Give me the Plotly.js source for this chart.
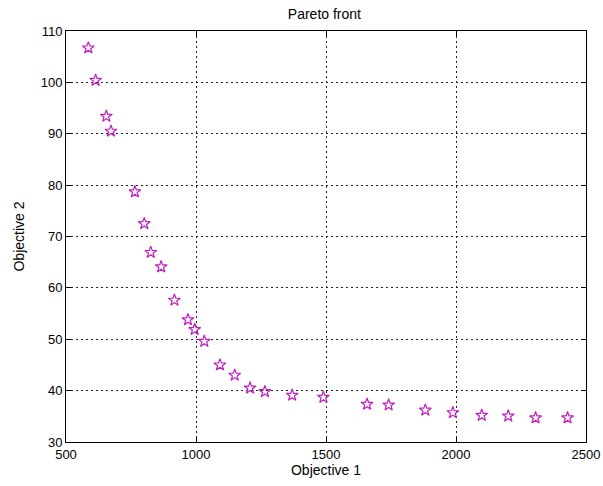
<!DOCTYPE html>
<html>
<head>
<meta charset="utf-8">
<script src="https://cdn.plot.ly/plotly-3.0.1.min.js"></script>
<style>html,body{margin:0;padding:0;background:#fff;}#chart{width:603px;height:486px;}</style>
</head>
<body>
<div id="chart"></div>
<script>
const objective1 = [586, 614, 655, 673, 765, 801, 826, 866, 917, 969, 995, 1032, 1092, 1149, 1208, 1265, 1370, 1490, 1658, 1741, 1882, 1988, 2099, 2201, 2306, 2429];
const objective2 = [106.7, 100.4, 93.4, 90.5, 78.7, 72.5, 66.9, 64.1, 57.6, 53.8, 51.9, 49.6, 45.0, 43.0, 40.5, 39.8, 39.1, 38.7, 37.35, 37.2, 36.2, 35.7, 35.2, 35.05, 34.7, 34.7];
const xTicks = [500, 1000, 1500, 2000, 2500];
const yTicks = [30, 40, 50, 60, 70, 80, 90, 100, 110];

const fam = 'Liberation Sans, Arial, sans-serif';
const font = {family: fam, size: 13, color: '#000'};
const axisCommon = {
  showline: true, linecolor: '#000', linewidth: 1, mirror: 'ticks',
  ticks: 'inside', ticklen: 5, tickcolor: '#000',
  showgrid: true, gridcolor: '#222', gridwidth: 1, griddash: '1.5px,3.5px',
  zeroline: false, tickfont: font
};
Plotly.newPlot('chart', [{
  x: objective1, y: objective2, type: 'scatter', mode: 'markers',
  marker: {symbol: 'star-open', size: 9, color: '#c020c0', line: {width: 1.2, color: '#b020b8'}}
}], {
  width: 603, height: 486,
  margin: {l: 66, r: 17, t: 31, b: 44},
  paper_bgcolor: '#fff', plot_bgcolor: '#fff',
  showlegend: false,
  title: {text: 'Pareto front', font: {family: fam, size: 14, color: '#000'}, x: 0.538, xanchor: 'center', y: 0.972, yanchor: 'middle'},
  xaxis: Object.assign({}, axisCommon, {range: [500, 2500], tickvals: xTicks, ticktext: xTicks.map(String),
    title: {text: 'Objective 1', font: {family: fam, size: 14, color: '#000'}, standoff: 0}}),
  yaxis: Object.assign({}, axisCommon, {range: [30, 110], tickvals: yTicks, ticktext: yTicks.map(String),
    title: {text: 'Objective 2', font: {family: fam, size: 14, color: '#000'}, standoff: 12}})
}, {staticPlot: true});
</script>
</body>
</html>
